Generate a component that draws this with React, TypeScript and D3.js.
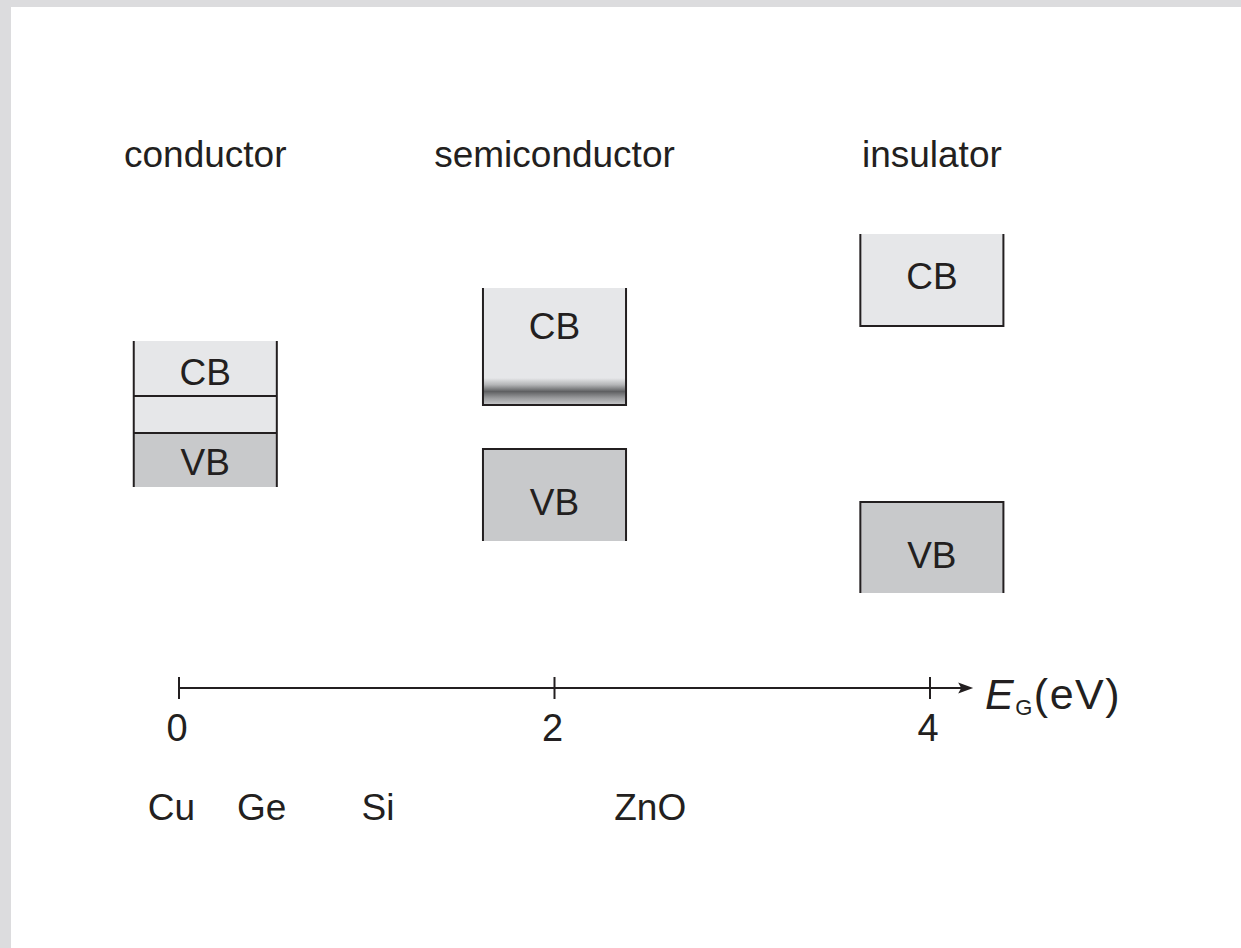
import React from "react";
import * as d3 from "d3";

// ---- data ----
const categories = ["conductor", "semiconductor", "insulator"];
const columnCenters = [0.14, 2.0, 4.01]; // position along E_G axis (eV)
const cbTop = [6.975, 8.3, 9.65]; // energy, arbitrary units
const cbBottom = [5.6, 5.375, 7.35];
const vbTop = [4.675, 4.275, 2.95];
const vbBottom = [3.325, 1.975, 0.675];
const tailHeight = 0.675; // semiconductor band-tail width (energy units)
const axisTicks = [0, 2, 4];
const materials = ["Cu", "Ge", "Si", "ZnO"];
const materialPos = [-0.04, 0.44, 1.06, 2.51];

const W = 1241;
const H = 948;
const INK = "#231f20";
const LIGHT = "#e6e7e9";
const DARK = "#c8c9cb";
const FONT = "'Liberation Sans', Arial, Helvetica, sans-serif";

export default function App() {
  const x = d3.scaleLinear().domain([0, 4]).range([179, 930]);
  const y = d3.scaleLinear().domain([0, 10]).range([620, 220]);
  const halfW = 0.381; // column half-width in eV units
  const axisY = 688;
  const axisEnd = x(4.23);

  return (
    <svg
      width={W}
      height={H}
      style={{ position: "absolute", left: 0, top: 0, fontFamily: FONT }}
    >
      <defs>
        <linearGradient id="tail" x1="0" y1="0" x2="0" y2="1">
          <stop offset="0" stopColor={LIGHT} />
          <stop offset="0.25" stopColor="#b4b5b7" />
          <stop offset="0.5" stopColor="#5f6062" />
          <stop offset="0.75" stopColor="#9c9d9f" />
          <stop offset="1" stopColor="#c9cacc" />
        </linearGradient>
      </defs>
      <rect x={0} y={0} width={W} height={H} fill="#dcdcde" />
      <rect x={11} y={7} width={W - 11} height={H - 7} fill="#ffffff" />

      {categories.map((c, i) => {
        const x0 = x(columnCenters[i] - halfW);
        const x1 = x(columnCenters[i] + halfW);
        const cx = (x0 + x1) / 2;
        const isConductor = i === 0;
        const isSemi = i === 1;
        const cbT = y(cbTop[i]);
        const cbB = y(cbBottom[i]);
        const vbT = y(vbTop[i]);
        const vbB = y(vbBottom[i]);
        const tailT = isSemi ? y(cbBottom[i] + tailHeight) : cbB;
        const lightBottom = isConductor ? vbT : cbB;
        const cbLabelY = isConductor
          ? cbT + 0.8 * (cbB - cbT)
          : cbT + (isSemi ? 0.57 : 0.6) * (tailT - cbT);
        const vbLabelY = vbT + (isConductor ? 0.78 : 0.72) * (vbB - vbT);
        return (
          <g key={c}>
            <text x={cx} y={167} fontSize={37} textAnchor="middle" fill={INK}>
              {c}
            </text>
            <rect x={x0} y={cbT} width={x1 - x0} height={lightBottom - cbT} fill={LIGHT} />
            {isSemi && (
              <rect x={x0} y={tailT} width={x1 - x0} height={cbB - tailT} fill="url(#tail)" />
            )}
            <rect x={x0} y={vbT} width={x1 - x0} height={vbB - vbT} fill={DARK} />
            {isConductor ? (
              <g stroke={INK} strokeWidth={2}>
                <line x1={x0} x2={x0} y1={cbT} y2={vbB} />
                <line x1={x1} x2={x1} y1={cbT} y2={vbB} />
                <line x1={x0} x2={x1} y1={cbB} y2={cbB} />
                <line x1={x0} x2={x1} y1={vbT} y2={vbT} />
              </g>
            ) : (
              <g stroke={INK} strokeWidth={2} fill="none">
                <path d={`M${x0},${cbT}V${cbB}H${x1}V${cbT}`} />
                <path d={`M${x0},${vbB}V${vbT}H${x1}V${vbB}`} />
              </g>
            )}
            <text x={cx} y={cbLabelY} fontSize={37} textAnchor="middle" fill={INK}>
              CB
            </text>
            <text x={cx} y={vbLabelY} fontSize={37} textAnchor="middle" fill={INK}>
              VB
            </text>
          </g>
        );
      })}

      {/* axis */}
      <line x1={x(0)} x2={axisEnd - 10} y1={axisY} y2={axisY} stroke={INK} strokeWidth={2} />
      <path
        d={`M${axisEnd},${axisY} L${axisEnd - 15},${axisY - 5.5} L${axisEnd - 12},${axisY} L${axisEnd - 15},${axisY + 5.5} Z`}
        fill={INK}
      />
      {axisTicks.map((t) => (
        <g key={t}>
          <line x1={x(t)} x2={x(t)} y1={axisY - 11} y2={axisY + 11} stroke={INK} strokeWidth={2} />
          <text x={x(t) - 2} y={741} fontSize={38} textAnchor="middle" fill={INK}>
            {t}
          </text>
        </g>
      ))}
      <text x={985} y={709} fontSize={43} fill={INK} letterSpacing={1.5}>
        <tspan fontStyle="italic">E</tspan>
        <tspan fontSize={22} dy={6}>G</tspan>
        <tspan dy={-6}>(eV)</tspan>
      </text>

      {materials.map((m, i) => (
        <text key={m} x={x(materialPos[i])} y={820} fontSize={37} textAnchor="middle" fill={INK}>
          {m}
        </text>
      ))}
    </svg>
  );
}
